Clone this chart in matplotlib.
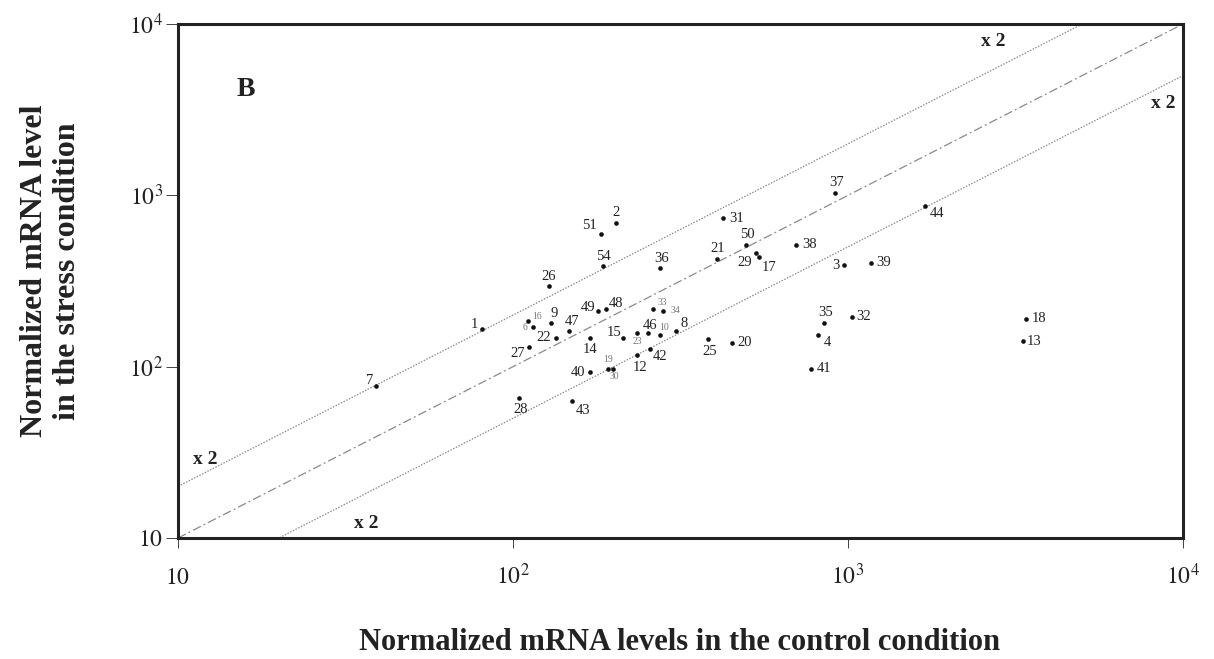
import matplotlib
matplotlib.use("Agg")
import matplotlib.pyplot as plt
import numpy as np
from matplotlib.ticker import FixedLocator, FixedFormatter, NullLocator

plt.rcParams['font.family'] = ['Liberation Serif', 'DejaVu Serif']
plt.rcParams['mathtext.fontset'] = 'stix'

# gene numbers and their normalized mRNA levels
genes = ['1', '2', '51', '54', '36', '26', '49', '48', '33', '34', '16', '6', '9', '47',
         '22', '27', '14', '15', '23', '46', '10', '8', '42', '12', '40', '19', '30',
         '25', '28', '43', '21', '7', '37', '31', '44', '50', '29', '17', '38', '3',
         '39', '35', '32', '4', '20', '41', '18', '13']
control = [81, 203, 183, 186, 275, 128, 179, 190, 262, 280, 111, 115, 130, 147,
           134, 112, 170, 213, 235, 253, 275, 307, 256, 235, 170, 192, 199,
           382, 104, 150, 406, 39, 915, 424, 1698, 496, 531, 542, 700, 973,
           1171, 848, 1028, 814, 450, 776, 3399, 3330]
stress = [166, 690, 595, 387, 377, 296, 211, 217, 217, 211, 185, 171, 180, 162,
          147, 130, 147, 147, 157, 157, 153, 162, 127, 117, 93, 97, 97,
          145, 66, 63, 425, 77, 1032, 738, 867, 513, 461, 437, 513, 392,
          403, 180, 195, 153, 138, 97, 190, 141]

# label offsets (pixels) relative to each dot
offsets = {
    '1': (-8, 4), '2': (0, 10), '51': (-11, 8), '54': (0, 9), '36': (1, 9),
    '26': (0, 9), '49': (-10, 4), '48': (10, 6), '33': (9, 7), '34': (13, 1),
    '16': (9, 4), '6': (-8, -1), '9': (3, 9), '47': (3, 9), '22': (-12, 0),
    '27': (-12, -6), '14': (0, -12), '15': (-9, 5), '23': (0, -8), '46': (2, 8),
    '10': (4, 8), '8': (8, 7), '42': (10, -8), '12': (3, -13), '40': (-12, 0),
    '19': (0, 9), '30': (1, -8), '25': (2, -12), '28': (2, -12), '43': (11, -9),
    '21': (1, 10), '7': (-6, 6), '37': (1, 10), '31': (13, -1), '44': (12, -8),
    '50': (1, 10), '29': (-11, -10), '17': (10, -11), '38': (13, 0), '3': (-8, 0),
    '39': (13, 0), '35': (2, 10), '32': (12, 0), '4': (9, -7), '20': (13, 0),
    '41': (13, 0), '18': (13, 0), '13': (11, 0),
}
small_labels = ['16', '6', '33', '34', '23', '10', '19', '30']

fig = plt.figure(figsize=(12.14, 6.59), dpi=100)
ax = fig.add_axes([0.1466, 0.1836, 0.8279, 0.78])

ax.set_xscale('log')
ax.set_yscale('log')
ax.set_xlim(10, 1e4)
ax.set_ylim(10, 1e4)

# reference lines: y = x, y = 2x, y = x/2
xs = np.array([10, 1e4])
ax.plot(xs, xs, color='#8a8a8a', lw=0.9, ls=(0, (7, 2.5, 1.5, 2.5)))
ax.plot(xs, 2 * xs, color='#8a8a8a', lw=0.9, ls=(0, (1.2, 1.2)))
ax.plot(xs, xs / 2, color='#8a8a8a', lw=0.9, ls=(0, (1.2, 1.2)))

ax.scatter(control, stress, s=11, color='#111111', zorder=3, linewidths=0)

for g, cx, sy in zip(genes, control, stress):
    dx, dy = offsets[g]
    small = g in small_labels
    ax.annotate(g, (cx, sy), xytext=(dx, dy), textcoords='offset pixels',
                ha='center', va='center',
                fontsize=7 if small else 10.5,
                color='#777777' if small else '#222222')

fig.text(246 / 1214, 1 - 90 / 659, 'B', fontsize=20, fontweight='bold',
         ha='center', va='center', color='#222222')
for px, py in [(205, 459), (366, 523), (993, 42), (1163, 104)]:
    fig.text(px / 1214, 1 - py / 659, 'x 2', fontsize=14, fontweight='bold',
             ha='center', va='center', color='#222222')

ax.xaxis.set_major_locator(FixedLocator([10, 100, 1000, 10000]))
ax.yaxis.set_major_locator(FixedLocator([10, 100, 1000, 10000]))
ax.xaxis.set_minor_locator(NullLocator())
ax.yaxis.set_minor_locator(NullLocator())
ticklabs = [r'$10$', r'$10^{2}$', r'$10^{3}$', r'$10^{4}$']
ax.xaxis.set_major_formatter(FixedFormatter(ticklabs))
ax.yaxis.set_major_formatter(FixedFormatter(ticklabs))
ax.tick_params(axis='x', direction='out', length=7, width=0.6, pad=26,
               labelsize=17, colors='#222222')
ax.tick_params(axis='y', direction='out', length=9, width=0.6, pad=2,
               labelsize=17, colors='#222222')
plt.setp(ax.get_xticklabels(), va='baseline')

for sp in ax.spines.values():
    sp.set_linewidth(2.2)
    sp.set_color('#222222')

fig.text(680 / 1214, 1 - 643 / 659, 'Normalized mRNA levels in the control condition',
         fontsize=22, fontweight='bold', ha='center', va='center', color='#222222')
fig.text(51 / 1214, 1 - 271 / 659, 'Normalized mRNA level\nin the stress condition',
         fontsize=23, fontweight='bold', ha='center', va='center', rotation=90,
         linespacing=1.15, color='#222222')

fig.savefig('out.png', dpi=100)
